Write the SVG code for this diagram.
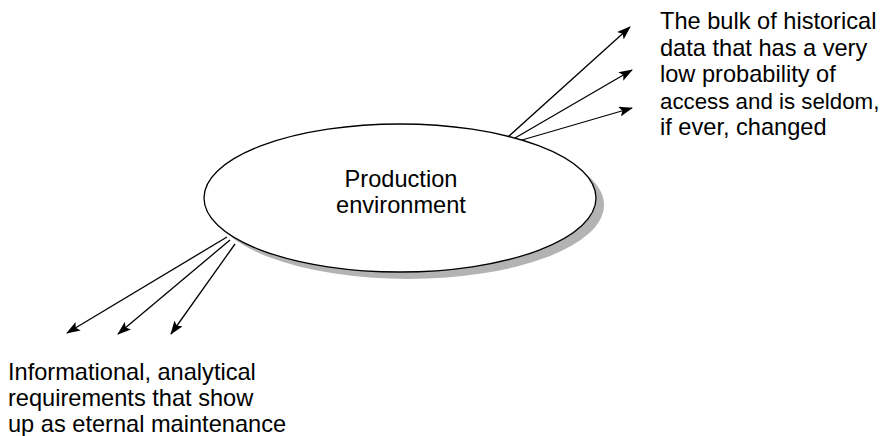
<svg xmlns="http://www.w3.org/2000/svg" width="885" height="436" viewBox="0 0 885 436">
<style>
text{font-family:"Liberation Sans",Arial,sans-serif;font-size:23.6px;fill:#000}
.c{stroke:#000;stroke-width:1.3;fill:none;marker-end:url(#ah)}
</style>
<defs>
<marker id="ah" viewBox="0 0 14 10" refX="13" refY="5" markerWidth="14" markerHeight="10" markerUnits="userSpaceOnUse" orient="auto">
<path d="M0,0 L14,5 L0,10 L3,5 Z" fill="#000"/>
</marker>
</defs>
<rect width="885" height="436" fill="#fff"/>
<g id="production">
<ellipse cx="408" cy="205" rx="196" ry="74" fill="#b3b3b3"/>
<ellipse cx="400" cy="198" rx="196" ry="74" fill="#fff" stroke="#000" stroke-width="1.3"/>
<text x="401" y="187" text-anchor="middle">Production</text>
<text x="401" y="213" text-anchor="middle">environment</text>
</g>
<g id="connectors">
<line class="c" x1="508" y1="137" x2="630" y2="27"/>
<line class="c" x1="515" y1="138" x2="632" y2="70"/>
<line class="c" x1="522" y1="140" x2="632" y2="108"/>
<line class="c" x1="227" y1="237" x2="67" y2="333"/>
<line class="c" x1="230" y1="240" x2="118" y2="334"/>
<line class="c" x1="235" y1="244" x2="171" y2="334"/>
</g>
<g id="historical">
<text x="660" y="29">The bulk of historical</text>
<text x="660" y="56">data that has a very</text>
<text x="660" y="82">low probability of</text>
<text x="660" y="109" style="font-size:22.3px">access and is seldom,</text>
<text x="660" y="135">if ever, changed</text>
</g>
<g id="informational">
<text x="8" y="380">Informational, analytical</text>
<text x="8" y="406">requirements that show</text>
<text x="8" y="432">up as eternal maintenance</text>
</g>
</svg>
